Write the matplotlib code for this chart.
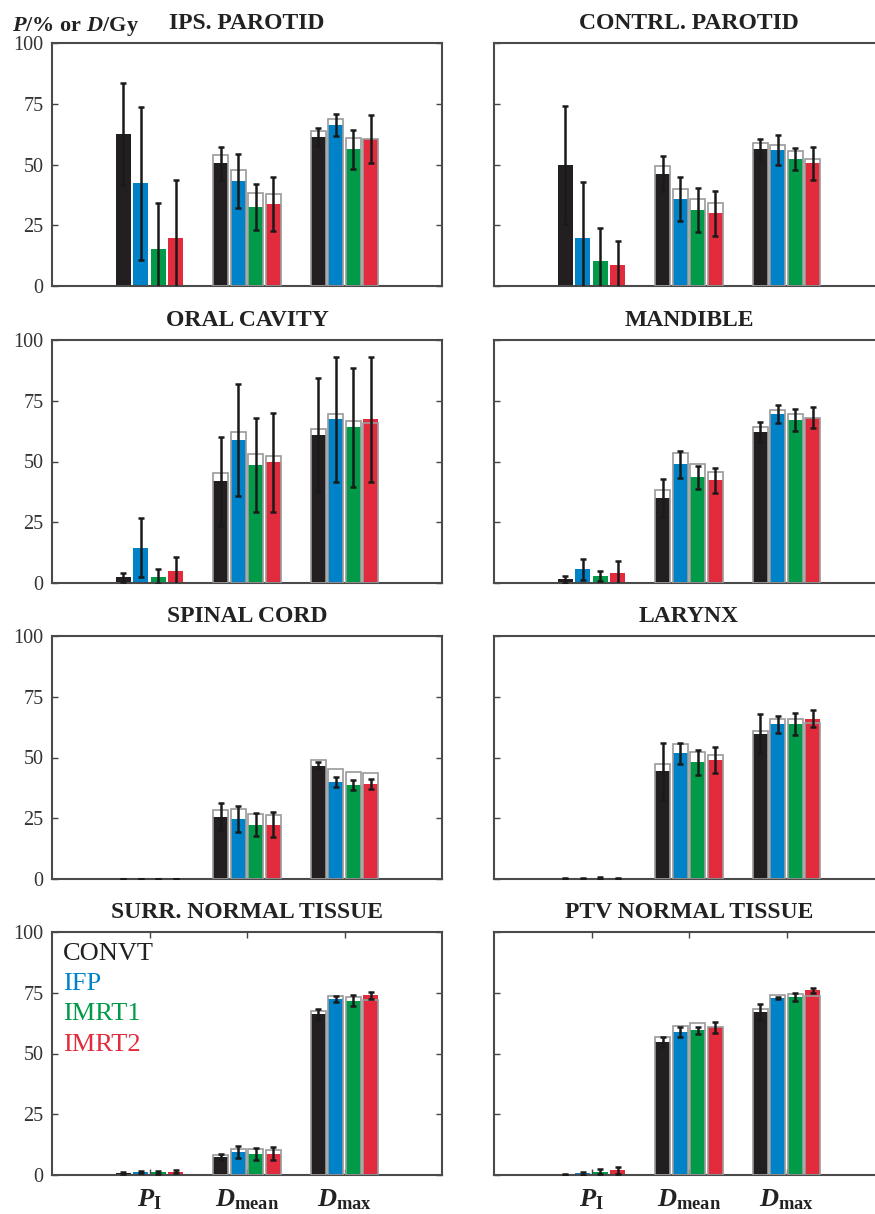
import matplotlib
matplotlib.use('Agg')
import matplotlib.pyplot as plt
import numpy as np

nan = np.nan

plans = ['CONVT', 'IFP', 'IMRT1', 'IMRT2']
plan_colors = ['#231F20', '#0082C8', '#009A49', '#E22B3D']
metric_labels = [r'$\mathit{P}_\mathrm{I}$', r'$\mathit{D}_\mathrm{mean}$', r'$\mathit{D}_\mathrm{max}$']
y_ticks = [0, 25, 50, 75, 100]

# rows = plans (CONVT, IFP, IMRT1, IMRT2), columns = P_I, D_mean, D_max
IPS_VAL = [[62.7, 50.5, 61.5], [42.3, 43.2, 66.2], [15.2, 32.5, 56.3], [19.6, 33.8, 60.5]]
IPS_REF = [[nan, 54.1, 63.8], [nan, 47.9, 68.8], [nan, 38.4, 60.7], [nan, 37.9, 60.5]]
IPS_ERR = [[21.0, 6.8, 3.7], [31.5, 11.0, 4.5], [18.8, 9.5, 8.0], [24.0, 11.0, 10.0]]

CON_VAL = [[49.9, 46.2, 56.3], [19.7, 35.8, 55.9], [10.4, 31.2, 52.2], [8.5, 29.9, 50.5]]
CON_REF = [[nan, 49.5, 58.8], [nan, 39.9, 58.1], [nan, 36.0, 55.6], [nan, 34.0, 52.3]]
CON_ERR = [[24.2, 7.2, 4.0], [23.0, 9.0, 6.3], [13.3, 9.0, 4.6], [10.0, 9.4, 6.8]]

ORAL_VAL = [[2.3, 41.9, 60.9], [14.6, 58.8, 67.4], [2.6, 48.5, 64.1], [5.1, 49.6, 67.3]]
ORAL_REF = [[nan, 45.3, 63.2], [nan, 62.1, 69.6], [nan, 53.2, 66.8], [nan, 52.1, 65.9]]
ORAL_ERR = [[1.8, 18.3, 23.3], [12.2, 23.0, 25.8], [3.2, 19.4, 24.4], [5.8, 20.2, 25.8]]

MAND_VAL = [[1.5, 35.0, 62.1], [5.6, 48.8, 69.5], [3.0, 43.5, 67.2], [4.2, 42.3, 68.1]]
MAND_REF = [[nan, 38.2, 64.3], [nan, 53.5, 71.1], [nan, 49.0, 69.5], [nan, 45.8, 67.7]]
MAND_ERR = [[1.4, 8.0, 4.2], [4.3, 5.6, 3.8], [2.0, 4.8, 4.5], [5.0, 5.1, 4.2]]

SPINAL_VAL = [[0.0, 25.7, 46.6], [0.0, 24.7, 39.8], [0.0, 22.4, 38.7], [0.0, 22.3, 39.1]]
SPINAL_REF = [[nan, 28.4, 48.9], [nan, 29.0, 45.1], [nan, 26.8, 44.2], [nan, 26.4, 43.5]]
SPINAL_ERR = [[0.0, 5.5, 1.5], [0.0, 5.5, 2.0], [0.0, 4.8, 1.9], [0.0, 5.2, 2.2]]

LAR_VAL = [[0.2, 44.3, 59.8], [0.3, 51.8, 63.7], [0.4, 48.0, 63.9], [0.3, 49.0, 66.0]]
LAR_REF = [[nan, 47.4, 60.8], [nan, 55.6, 65.8], [nan, 52.3, 66.0], [nan, 51.0, 64.3]]
LAR_ERR = [[0.1, 11.6, 8.0], [0.1, 4.3, 3.5], [0.3, 5.1, 4.6], [0.1, 5.4, 3.4]]

SURR_VAL = [[0.7, 7.4, 66.2], [1.2, 9.5, 72.3], [1.1, 8.8, 71.8], [1.4, 8.8, 73.9]]
SURR_REF = [[nan, 8.2, 67.6], [nan, 10.9, 73.6], [nan, 10.7, 73.1], [nan, 10.3, 72.1]]
SURR_ERR = [[0.4, 1.3, 2.2], [0.5, 2.4, 1.2], [0.5, 2.5, 2.4], [0.6, 2.6, 1.5]]

PTV_VAL = [[0.3, 54.7, 67.0], [0.8, 58.8, 72.9], [1.3, 59.5, 73.4], [1.9, 60.7, 76.1]]
PTV_REF = [[nan, 56.9, 68.4], [nan, 61.5, 74.1], [nan, 62.5, 74.6], [nan, 60.7, 73.6]]
PTV_ERR = [[0.2, 2.0, 3.4], [0.6, 2.1, 0.4], [1.0, 1.6, 1.6], [1.4, 2.2, 1.0]]

panels = [
    ('IPS. PAROTID', IPS_VAL, IPS_REF, IPS_ERR),
    ('CONTRL. PAROTID', CON_VAL, CON_REF, CON_ERR),
    ('ORAL CAVITY', ORAL_VAL, ORAL_REF, ORAL_ERR),
    ('MANDIBLE', MAND_VAL, MAND_REF, MAND_ERR),
    ('SPINAL CORD', SPINAL_VAL, SPINAL_REF, SPINAL_ERR),
    ('LARYNX', LAR_VAL, LAR_REF, LAR_ERR),
    ('SURR. NORMAL TISSUE', SURR_VAL, SURR_REF, SURR_ERR),
    ('PTV NORMAL TISSUE', PTV_VAL, PTV_REF, PTV_ERR),
]

plt.rcParams['font.family'] = ['Liberation Serif', 'DejaVu Serif']
plt.rcParams['mathtext.fontset'] = 'custom'
plt.rcParams['mathtext.rm'] = 'Liberation Serif:bold'
plt.rcParams['mathtext.it'] = 'Liberation Serif:bold:italic'
plt.rcParams['mathtext.bf'] = 'Liberation Serif:bold'

W, H = 875, 1214
fig = plt.figure(figsize=(W / 100, H / 100), dpi=100)

col_left = [52, 494]
ax_w = 390
row_top = [43, 340, 636, 932]
ax_h = 243

offsets = [-0.27, -0.09, 0.09, 0.27]
bar_w = 0.155
x = np.arange(1, 4)

for k, (title, val, ref, err) in enumerate(panels):
    r, c = divmod(k, 2)
    ax = fig.add_axes([col_left[c] / W, 1 - (row_top[r] + ax_h) / H, ax_w / W, ax_h / H])
    val = np.array(val)
    ref = np.array(ref)
    err = np.array(err)
    for i in range(4):
        xi = x + offsets[i]
        ax.bar(xi, val[i], width=bar_w, color=plan_colors[i], linewidth=0, zorder=2)
        m = ~np.isnan(ref[i])
        ax.bar(xi[m], ref[i][m], width=bar_w, fill=False, edgecolor='#9a9a9a', linewidth=1.2, zorder=3)
        ax.errorbar(xi, val[i], yerr=err[i], fmt='none', ecolor='#1a1a1a', elinewidth=1.8,
                    capsize=2.3, capthick=1.8, zorder=4)
    ax.set_xlim(0, 4)
    ax.set_ylim(0, 100)
    ax.set_yticks(y_ticks)
    ax.set_xticks(x)
    ax.tick_params(axis='y', direction='in', length=4, width=1, right=True, labelsize=14.5,
                   labelcolor='#333333', color='#444444', pad=6)
    if r == 3:
        ax.tick_params(axis='x', direction='in', length=4, width=1, top=True, color='#444444', pad=9)
        ax.set_xticklabels(metric_labels, fontsize=19, color='#222222')
    else:
        ax.tick_params(axis='x', length=0, labelbottom=False)
    if c == 1:
        ax.tick_params(axis='y', labelleft=False)
    for s in ax.spines.values():
        s.set_color('#4a4a4a')
        s.set_linewidth(1.5)
    ax.set_title(title, fontsize=17, fontweight='bold', color='#222222', pad=10)

    if k == 6:
        for i, p in enumerate(plans):
            ax.text(0.028, 0.884 - i * 0.124, p, transform=ax.transAxes, fontsize=19,
                    color=plan_colors[i], va='baseline', ha='left')

fig.text(12 / W, 1 - 31 / H, r'$\mathit{P}\mathrm{/\%\ or\ }\mathit{D}\mathrm{/Gy}$',
         fontsize=16, color='#222222', va='baseline', ha='left')

fig.savefig('out.png', dpi=100)
